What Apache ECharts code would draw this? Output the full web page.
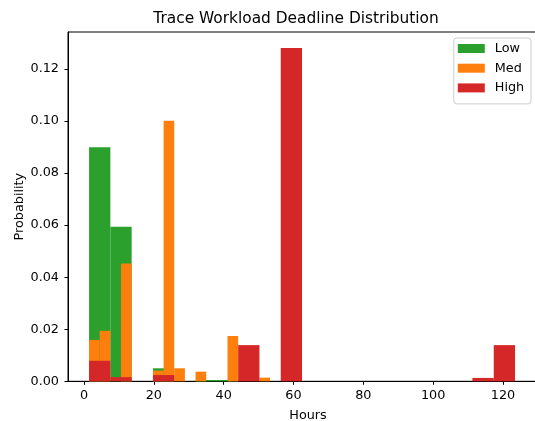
<!DOCTYPE html>
<html>
<head>
<meta charset="utf-8">
<script src="https://cdn.jsdelivr.net/npm/echarts@6/dist/echarts.min.js"></script>
<style>
html,body{margin:0;padding:0;background:#fff;}
#chart{width:535px;height:421px;}
</style>
</head>
<body>
<div id="chart"></div>
<script>
// Histogram bins: [bin start, bin end] in hours and probability value
var lowBinStart = [1.45, 7.55, 19.75, 31.95, 38.05];
var lowBinEnd   = [7.55, 13.65, 25.85, 38.05, 44.15];
var lowValues   = [0.0899, 0.0594, 0.0050, 0.0005, 0.0005];

var medBinStart = [1.45, 4.5, 10.6, 19.75, 22.8, 25.85, 31.95, 41.1, 50.25];
var medBinEnd   = [4.5, 7.55, 13.65, 22.8, 25.85, 28.9, 35.0, 44.15, 53.3];
var medValues   = [0.0159, 0.0194, 0.0453, 0.0041, 0.1001, 0.0050, 0.0037, 0.0174, 0.0014];

var highBinStart = [1.45, 7.55, 19.75, 44.15, 56.35, 111.25, 117.35];
var highBinEnd   = [7.55, 13.65, 25.85, 50.25, 62.45, 117.35, 123.45];
var highValues   = [0.0079, 0.0016, 0.0024, 0.0139, 0.1281, 0.0013, 0.0139];

var seriesNames = ['Low', 'Med', 'High'];
var xTicks = [0, 20, 40, 60, 80, 100, 120];
var yTicks = [0, 0.02, 0.04, 0.06, 0.08, 0.10, 0.12];

var colors = ['#2ca02c', '#ff7f0e', '#d62728'];
var FONT = 'DejaVu Sans';
var FS = 12.8;

function toData(starts, ends, vals) {
  return starts.map(function (s, i) { return [s, ends[i], vals[i]]; });
}

function makeSeries(name, data, color) {
  return {
    type: 'custom',
    name: name,
    data: data,
    itemStyle: { color: color },
    encode: { x: [0, 1], y: 2 },
    renderItem: function (params, api) {
      var x0 = api.value(0), x1 = api.value(1), v = api.value(2);
      var p0 = api.coord([x0, v]);
      var p1 = api.coord([x1, 0]);
      return {
        type: 'rect',
        shape: { x: p0[0], y: p0[1], width: p1[0] - p0[0], height: p1[1] - p0[1] },
        style: { fill: color }
      };
    }
  };
}

var chart = echarts.init(document.getElementById('chart'), null, { renderer: 'canvas' });
chart.setOption({
  animation: false,
  backgroundColor: '#fff',
  title: {
    text: 'Trace Workload Deadline Distribution',
    left: 291,
    textAlign: 'center',
    top: 6,
    textStyle: { fontFamily: FONT, fontSize: 15.4, fontWeight: 'normal', color: '#000' }
  },
  legend: {
    orient: 'vertical',
    right: 4,
    top: 38,
    padding: [3.5, 6.8, 9, 4],
    itemGap: 5.7,
    itemWidth: 27,
    itemHeight: 9,
    icon: 'rect',
    backgroundColor: '#fff',
    borderColor: '#cccccc',
    borderWidth: 1,
    borderRadius: 3,
    data: seriesNames,
    textStyle: { fontFamily: FONT, fontSize: FS, color: '#000', padding: [0, 0, 0, 5], lineHeight: 14 }
  },
  grid: {
    left: 68,
    top: 32,
    width: 480,
    height: 349.3,
    show: true,
    borderColor: '#000',
    borderWidth: 1,
    containLabel: false,
    outerBoundsMode: 'none'
  },
  xAxis: {
    type: 'value',
    min: -4.58,
    max: 132.89,
    name: 'Hours',
    nameLocation: 'middle',
    nameGap: 28,
    nameMoveOverlap: false,
    nameTextStyle: { fontFamily: FONT, fontSize: FS, color: '#000' },
    axisLine: { show: true, onZero: false, lineStyle: { color: '#000', width: 1 } },
    axisTick: { show: true, length: 3.5, lineStyle: { color: '#000', width: 1 }, customValues: xTicks },
    axisLabel: { fontFamily: FONT, fontSize: FS, color: '#000', margin: 8, customValues: xTicks },
    splitLine: { show: false }
  },
  yAxis: {
    type: 'value',
    min: 0,
    max: 0.1342,
    name: 'Probability',
    nameLocation: 'middle',
    nameGap: 42,
    nameMoveOverlap: false,
    nameTextStyle: { fontFamily: FONT, fontSize: FS, color: '#000' },
    axisLine: { show: true, onZero: false, lineStyle: { color: '#000', width: 1 } },
    axisTick: { show: true, length: 3.5, lineStyle: { color: '#000', width: 1 }, customValues: yTicks },
    axisLabel: {
      fontFamily: FONT, fontSize: FS, color: '#000', margin: 9, customValues: yTicks,
      formatter: function (v) { return v.toFixed(2); }
    },
    splitLine: { show: false }
  },
  series: [
    makeSeries('Low', toData(lowBinStart, lowBinEnd, lowValues), colors[0]),
    makeSeries('Med', toData(medBinStart, medBinEnd, medValues), colors[1]),
    makeSeries('High', toData(highBinStart, highBinEnd, highValues), colors[2])
  ]
});
</script>
</body>
</html>
